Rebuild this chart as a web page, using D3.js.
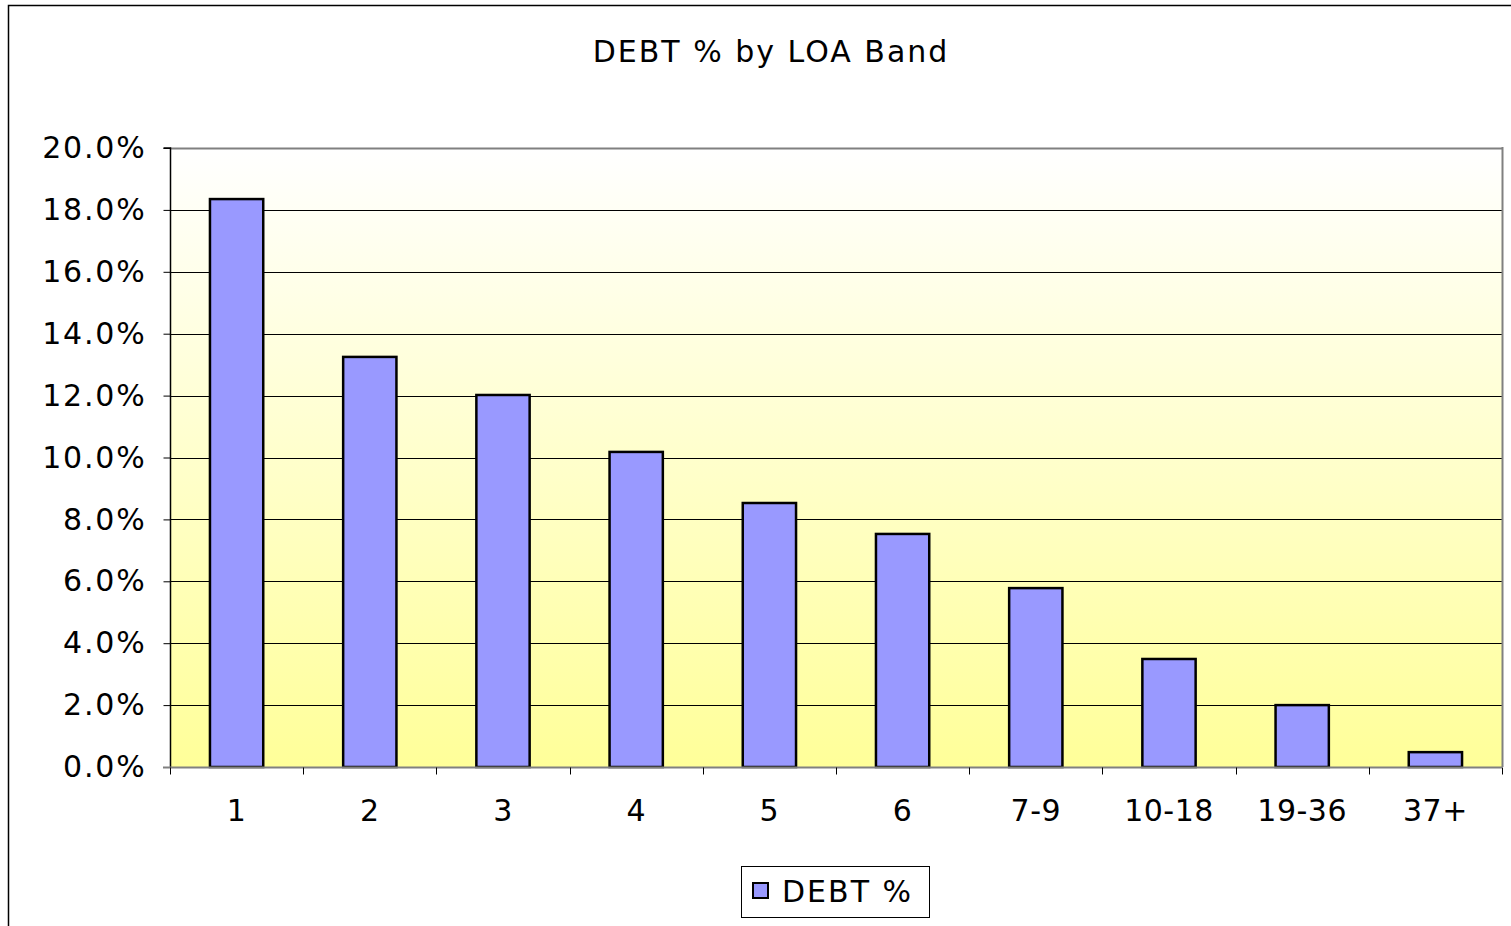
<!DOCTYPE html>
<html>
<head>
<meta charset="utf-8">
<script src="https://cdn.jsdelivr.net/npm/d3@7"></script>
<style>
  html, body { margin: 0; padding: 0; background: #fff; overflow: hidden; }
  svg { display: block; font-family: "DejaVu Sans", Verdana, sans-serif; }
</style>
</head>
<body>
<svg id="chart" width="1511" height="926"></svg>
<script>
const categories = ["1", "2", "3", "4", "5", "6", "7-9", "10-18", "19-36", "37+"];
const debtPct = [18.35, 13.25, 12.02, 10.18, 8.53, 7.53, 5.78, 3.49, 2.0, 0.48];
const yTicks = [0, 2, 4, 6, 8, 10, 12, 14, 16, 18, 20];
const seriesName = "DEBT %";
const title = "DEBT % by LOA Band";

const svg = d3.select("#chart");
const W = 1511, H = 926;
const plot = { left: 170, right: 1502, top: 148, bottom: 767 };

// chart area border
svg.append("rect").attr("x", 8.5).attr("y", 5.5).attr("width", W).attr("height", H)
  .attr("fill", "#fff").attr("stroke", "#000").attr("stroke-width", 1.5);

// gradient
const defs = svg.append("defs");
const grad = defs.append("linearGradient").attr("id", "bg").attr("x1", 0).attr("y1", 0).attr("x2", 0).attr("y2", 1);
grad.append("stop").attr("offset", "0%").attr("stop-color", "#ffffff");
grad.append("stop").attr("offset", "100%").attr("stop-color", "#ffff99");

const x = d3.scaleBand().domain(categories).range([plot.left, plot.right]).paddingInner(0.6).paddingOuter(0.3);
const xb = d3.scaleBand().domain(categories).range([plot.left, plot.right]);
const y = d3.scaleLinear().domain([0, 20]).range([plot.bottom, plot.top]);

svg.append("rect").attr("x", plot.left).attr("y", plot.top)
  .attr("width", plot.right - plot.left).attr("height", plot.bottom - plot.top)
  .attr("fill", "url(#bg)");

// gridlines
svg.append("g").selectAll("line").data(yTicks.filter(d => d > 0)).join("line")
  .attr("x1", plot.left).attr("x2", plot.right)
  .attr("y1", d => Math.round(y(d)) + 0.5).attr("y2", d => Math.round(y(d)) + 0.5)
  .attr("stroke", d => d === 20 ? "#808080" : "#000").attr("stroke-width", d => d === 20 ? 2 : 1);

// right border
svg.append("line").attr("x1", plot.right + 0.5).attr("x2", plot.right + 0.5)
  .attr("y1", plot.top - 1).attr("y2", plot.bottom).attr("stroke", "#808080").attr("stroke-width", 2);

// bars
svg.append("g").selectAll("rect").data(categories).join("rect")
  .attr("x", d => x(d))
  .attr("width", x.bandwidth())
  .attr("y", (d, i) => y(debtPct[i]))
  .attr("height", (d, i) => y(0) - y(debtPct[i]))
  .attr("fill", "#9999ff").attr("stroke", "#000").attr("stroke-width", 2.5);

// y axis
const yAxis = d3.axisLeft(y).tickValues(yTicks).tickSize(7).tickPadding(17)
  .tickFormat(d => d.toFixed(1) + "%");
const gy = svg.append("g").attr("transform", `translate(${plot.left + 0.5},0)`).call(yAxis);
gy.select(".domain").attr("stroke", "#000").attr("stroke-width", 1.5).attr("d", `M-7,${plot.top}H0V${plot.bottom}`);
gy.selectAll(".tick line").attr("stroke", "#000");
gy.selectAll("text").attr("font-size", 30).attr("fill", "#000")
  .attr("font-family", "DejaVu Sans, Verdana, sans-serif").attr("letter-spacing", 1.8);

// x axis
const gx = svg.append("g").attr("transform", `translate(0,${plot.bottom + 0.5})`);
gx.append("line").attr("x1", plot.left - 7).attr("x2", plot.right).attr("y1", 0).attr("y2", 0)
  .attr("stroke", "#808080").attr("stroke-width", 2);
const boundaries = categories.map(c => xb(c)).concat([plot.right]);
gx.selectAll("line.tk").data(boundaries).join("line").attr("class", "tk")
  .attr("x1", d => Math.round(d) + 0.5).attr("x2", d => Math.round(d) + 0.5)
  .attr("y1", 0).attr("y2", 7).attr("stroke", "#000").attr("stroke-width", 1);
gx.selectAll("text").data(categories).join("text")
  .attr("x", d => xb(d) + xb.bandwidth() / 2)
  .attr("y", 53)
  .attr("text-anchor", "middle").attr("font-size", 30).attr("letter-spacing", 0.5)
  .text(d => d);

// title
svg.append("text").attr("x", 771).attr("y", 62).attr("text-anchor", "middle")
  .attr("font-size", 30).attr("letter-spacing", 2).text(title);

// legend
const lg = svg.append("g");
lg.append("rect").attr("x", 741.5).attr("y", 866.5).attr("width", 188).attr("height", 51)
  .attr("fill", "#fff").attr("stroke", "#000").attr("stroke-width", 1);
lg.append("rect").attr("x", 753).attr("y", 883).attr("width", 15).attr("height", 15)
  .attr("fill", "#9999ff").attr("stroke", "#000").attr("stroke-width", 2);
lg.append("text").attr("x", 782).attr("y", 902).attr("font-size", 30).attr("letter-spacing", 2).text(seriesName);
</script>
</body>
</html>
